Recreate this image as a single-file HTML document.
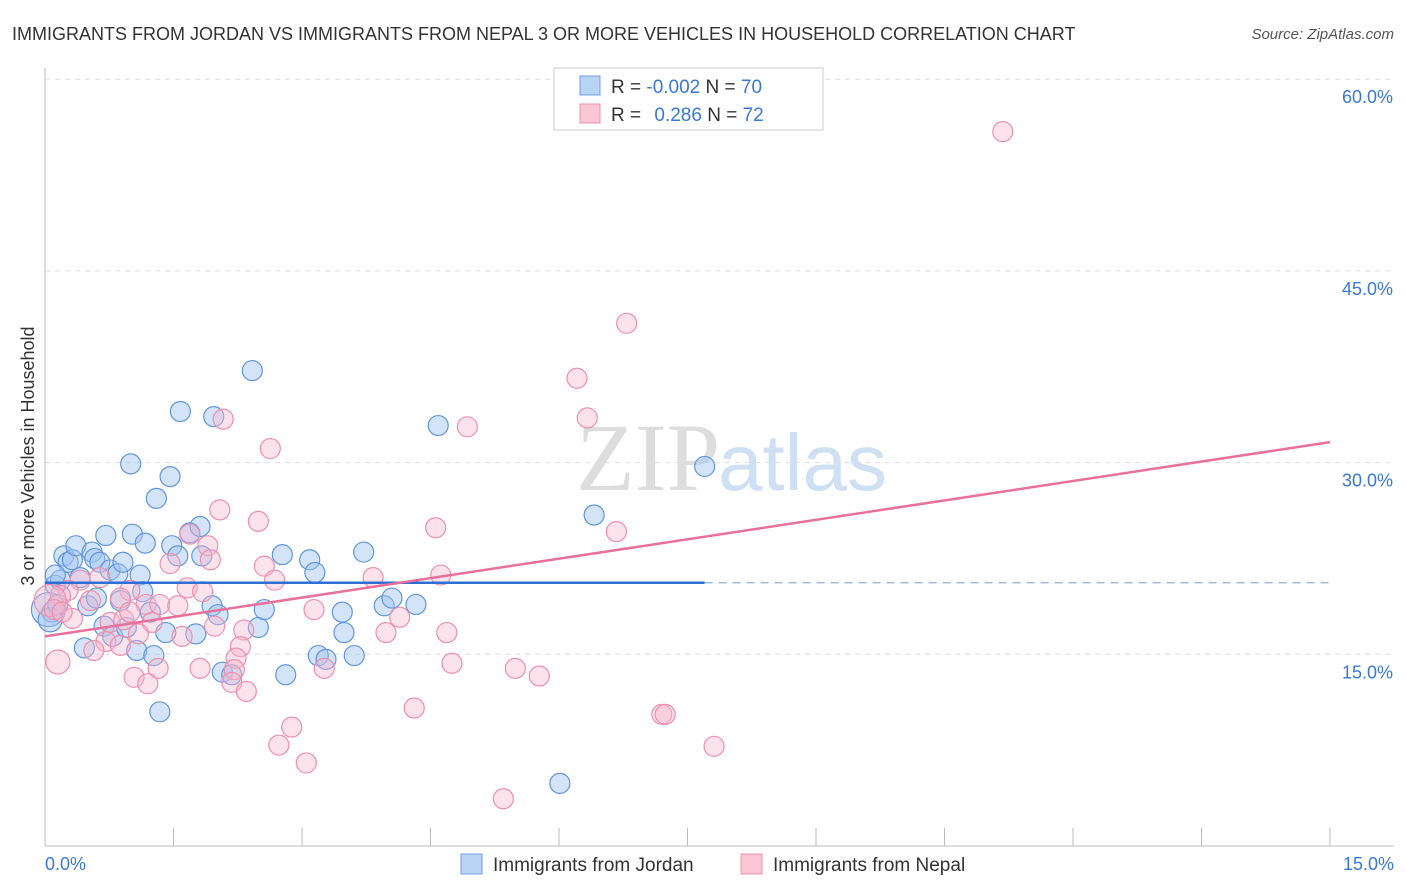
<!DOCTYPE html>
<html><head><meta charset="utf-8"><style>
body{margin:0;background:#fff;font-family:"Liberation Sans",sans-serif}
svg{display:block}
</style></head><body>
<svg id="chart" width="1406" height="892">
<text x="12" y="40" font-size="18" fill="#333">IMMIGRANTS FROM JORDAN VS IMMIGRANTS FROM NEPAL 3 OR MORE VEHICLES IN HOUSEHOLD CORRELATION CHART</text>
<text x="1394" y="39" font-size="15" fill="#555" font-style="italic" text-anchor="end">Source: ZipAtlas.com</text>
<text x="720" y="490" font-size="96" fill="#ddd" font-family="Liberation Serif,serif" text-anchor="end">ZIP</text>
<text x="718" y="490" font-size="80" fill="#cfe0f3">atlas</text>
<text transform="translate(34,456) rotate(-90)" font-size="18" fill="#333" text-anchor="middle">3 or more Vehicles in Household</text>
<g id="grid"></g><g id="axes"></g><g id="pts"></g><g id="lines"></g>
<g>
<rect x="554" y="68" width="269" height="62" fill="#fff" stroke="#ccc"/>
<rect x="580" y="76" width="20" height="19" fill="#b8d3f3" stroke="#6f9fe0"/>
<rect x="580" y="104" width="20" height="19" fill="#f9c6d6" stroke="#ef93b0"/>
<text x="611" y="93" font-size="19" fill="#333">R = <tspan fill="#3a78d8">-0.002</tspan>   N = <tspan fill="#3a78d8">70</tspan></text>
<text x="611" y="121" font-size="19" fill="#333">R =  <tspan fill="#3a78d8" dx="8">0.286</tspan>   N = <tspan fill="#3a78d8">72</tspan></text>
</g>
<g>
<rect x="461" y="854" width="21" height="20" fill="#b8d3f3" stroke="#6f9fe0"/>
<text x="493" y="871" font-size="19" fill="#333">Immigrants from Jordan</text>
<rect x="741" y="854" width="21" height="20" fill="#f9c6d6" stroke="#ef93b0"/>
<text x="773" y="871" font-size="19" fill="#333">Immigrants from Nepal</text>
</g>
</svg>
<script>
const yTicks=[15,30,45,60];
const yTickLabels=["15.0%","30.0%","45.0%","60.0%"];
const xTickLabels=["0.0%","15.0%"];
const jordanX=[0.08,0.12,0.18,0.22,0.27,0.32,0.36,0.41,0.50,0.46,0.55,0.58,0.64,0.69,0.71,0.76,0.79,0.85,0.88,0.91,0.95,1.0,1.02,1.07,1.11,1.14,1.17,1.23,1.27,1.30,1.34,1.41,1.46,1.48,1.55,1.58,1.69,1.76,1.81,1.83,1.95,1.97,2.02,2.07,2.18,2.42,2.49,2.56,2.77,2.81,3.09,3.15,3.19,3.28,3.47,3.49,3.61,3.72,3.96,4.05,4.33,4.59,6.01,6.41,7.70,0.04,0.06,0.12,0.60,0.15];
const jordanY=[18.3,20.4,20.8,22.7,22.2,22.4,23.5,21.0,18.8,15.5,23.0,22.5,22.2,17.2,24.3,21.6,16.4,21.3,19.2,22.2,17.1,29.9,24.4,15.3,21.2,19.9,23.7,18.3,14.9,27.2,10.5,16.7,28.9,23.5,22.7,34.0,24.5,16.6,25.0,22.7,18.8,33.6,18.1,13.6,13.4,37.2,17.1,18.5,22.8,13.4,22.4,21.4,14.9,14.6,18.3,16.7,14.9,23.0,18.8,19.4,18.9,32.9,4.9,25.9,29.7,18.5,17.7,21.2,19.4,18.9];
const jordanR=[10,10,10,10,10,10,10,10,10,10,10,10,10,10,10,10,10,10,10,10,10,10,10,10,10,10,10,10,10,10,10,10,10,10,10,10,10,10,10,10,10,10,10,10,10,10,10,10,10,10,10,10,10,10,10,10,10,10,10,10,10,10,10,10,10,17,12,10,10,10];
const nepalX=[11.18,6.79,6.21,6.33,4.93,2.08,2.63,2.04,2.49,4.56,6.67,1.69,1.90,1.93,2.56,1.46,2.68,3.83,4.62,1.66,1.84,0.99,0.64,0.41,0.27,0.18,0.53,0.88,1.18,1.34,1.55,3.14,4.14,0.32,1.25,1.98,0.76,0.92,2.32,3.98,4.69,1.09,1.60,0.71,2.28,0.57,0.88,2.23,0.15,4.75,3.26,1.81,2.21,1.32,1.04,1.20,5.49,5.77,2.18,2.35,4.31,7.20,7.24,2.88,2.73,7.81,3.05,5.35,0.06,0.11,0.99,0.20];
const nepalY=[55.9,40.9,36.6,33.5,32.8,33.4,31.1,26.3,25.4,24.9,24.6,24.4,23.5,22.4,21.9,22.1,20.8,21.0,21.2,20.2,19.9,20.0,21.0,20.8,20.0,19.6,19.2,19.4,18.9,18.9,18.8,18.5,17.9,17.8,17.5,17.2,17.5,17.7,16.9,16.7,16.7,16.6,16.4,16.0,15.6,15.3,15.7,14.7,14.4,14.3,13.9,13.9,13.8,13.9,13.2,12.7,13.9,13.3,12.8,12.1,10.8,10.3,10.3,9.3,7.9,7.8,6.5,3.7,19.2,18.5,18.3,18.3];
const nepalR=nepalX.map((v,i)=>i==48?12:(i==68?16:10));
const jordanTrend=[20.6,20.6];
const nepalTrend=[16.4,31.6];
const X0=45,X1=1330,Y0=846,PXPER=191.7/15;
const sx=v=>X0+(v/15)*(X1-X0);
const sy=v=>Y0-v*PXPER;
const NS='http://www.w3.org/2000/svg';
function mk(tag,parent,attrs){const e=document.createElementNS(NS,tag);for(const k in attrs)e.setAttribute(k,attrs[k]);document.getElementById(parent).appendChild(e);return e;}
yTicks.forEach((t,i)=>{
 const g=mk('line','grid',{x1:X0,x2:1394,y1:sy(t),y2:sy(t),stroke:'#ddd','stroke-dasharray':'5,5'});
 
 
 const l=mk('text','axes',{x:1393,y:sy(t)+24,'font-size':18,fill:'#3a78d8','text-anchor':'end'});
 l.textContent=yTickLabels[i];
 
 
});
const ax=mk('line','axes',{x1:X0,x2:X0,y1:68,y2:Y0,stroke:'#bbb'});


const bx=mk('line','axes',{x1:X0,x2:1394,y1:Y0,y2:Y0,stroke:'#bbb'});


for(let i=1;i<=10;i++){const t=mk('line','axes',{x1:sx(i*1.5),x2:sx(i*1.5),y1:Y0,y2:Y0-18,stroke:'#bbb'});
 
 }
const xl0=mk('text','axes',{x:45,y:870,'font-size':18,fill:'#3a78d8'});xl0.textContent=xTickLabels[0];


const xl1=mk('text','axes',{x:1394,y:870,'font-size':18,fill:'#3a78d8','text-anchor':'end'});xl1.textContent=xTickLabels[1];


jordanX.forEach((v,i)=>{const c=mk('circle','pts',{cx:sx(v),cy:sy(jordanY[i]),r:jordanR[i],fill:'rgba(160,196,240,0.45)',stroke:'#5f95dd','stroke-width':1.2});
 
 });
nepalX.forEach((v,i)=>{const c=mk('circle','pts',{cx:sx(v),cy:sy(nepalY[i]),r:nepalR[i],fill:'rgba(248,182,204,0.4)',stroke:'#ee8fae','stroke-width':1.2});
 
 });
const jl=mk('line','lines',{x1:sx(0),x2:sx(7.7),y1:sy(jordanTrend[0]),y2:sy(jordanTrend[1]),stroke:'#2d6fd6','stroke-width':2.5});


const jd=mk('line','lines',{x1:sx(7.7),x2:sx(15),y1:sy(jordanTrend[0]),y2:sy(jordanTrend[1]),stroke:'#8fb0d8','stroke-width':1.2,'stroke-dasharray':'8,6'});


const nl=mk('line','lines',{x1:sx(0),x2:sx(15),y1:sy(nepalTrend[0]),y2:sy(nepalTrend[1]),stroke:'#e8709a','stroke-width':2.5});


</script>
</body></html>
